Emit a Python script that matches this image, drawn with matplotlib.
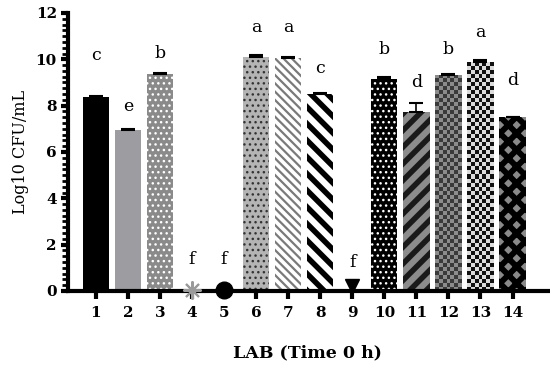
import matplotlib
matplotlib.use('Agg')
import matplotlib.pyplot as plt
import numpy as np

labs = [str(i) for i in range(1, 15)]
values = [8.36, 6.95, 9.35, 0, 0, 10.12, 10.05, 8.50, 0, 9.15, 7.72, 9.33, 9.87, 7.50]
errors = [0.05, 0.03, 0.05, 0, 0, 0.05, 0.03, 0.03, 0, 0.10, 0.40, 0.03, 0.09, 0.03]
letters = ['c', 'e', 'b', 'f', 'f', 'a', 'a', 'c', 'f', 'b', 'd', 'b', 'a', 'd']
letter_y = [10.17, 7.97, 10.26, 1.34, 1.34, 11.38, 11.38, 9.6, 1.25, 10.43, 9.0, 10.43, 11.16, 9.1]

# fill, hatch colour, hatch, hatch linewidth  ('check' = checkerboard)
styles = [
    ('black', 'black', None, 1),
    ('#9c9ca1', '#9c9ca1', None, 1),
    ('#8a8a8a', 'white', '...', 1.0),
    None, None,
    ('#b4b4b4', '#333333', '...', 1.0),
    ('white', '#7a7a7a', '\\\\\\\\', 1.6),
    ('white', 'black', '\\\\', 4.0),
    None,
    ('black', 'white', '...', 1.0),
    ('#8c8c8c', '#1a1a1a', '//', 4.0),
    ('check', '#3a3a3a', '#8c8c8c', 0),
    ('check', '#111111', '#dcdcdc', 0),
    ('#8a8a8a', 'black', 'xx', 4.2),
]
zero_marks = {3: ('*', '#9a9a9a', 13), 4: ('o', 'black', 12), 8: ('v', 'black', 10)}

plt.rcParams['font.family'] = ['DejaVu Serif', 'Liberation Serif']

fig = plt.figure(figsize=(5.5, 3.69), dpi=100)
ax = fig.add_axes([0.1236, 0.2114, 0.8724, 0.7534])

ax.set_xlim(0.13, 15.1)
ax.set_ylim(0, 12)

x = list(range(1, 15))
for i in range(14):
    st = styles[i]
    if st is None:
        m, c, s = zero_marks[i]
        if m == '*':
            ax.plot(x[i], values[i] + 0.05, marker=(8, 2, 0), color=c, markersize=s,
                    markeredgewidth=1.5, clip_on=False, zorder=5)
        elif m == 'v':
            ax.plot(x[i], values[i] + 0.2, marker=m, color=c, markersize=s,
                    clip_on=False, zorder=5)
        else:
            ax.plot(x[i], values[i] + 0.05, marker=m, color=c, markersize=s,
                    clip_on=False, zorder=5)
        continue
    fill, hc, hatch, hlw = st
    if fill == 'check':
        bars = ax.bar(x[i], values[i], width=0.82, color='none', linewidth=0, zorder=2)
        patch = bars[0]
        x0, x1 = patch.get_x(), patch.get_x() + patch.get_width()
        p0 = ax.transData.transform((x0, 0))
        p1 = ax.transData.transform((x1, values[i]))
        nx = max(1, int(round((p1[0] - p0[0]) / 4.0)))
        ny = max(1, int(round((p1[1] - p0[1]) / 4.0)))
        board = np.indices((ny, nx)).sum(axis=0) % 2
        cmap = matplotlib.colors.ListedColormap([hc, hatch])
        im = ax.imshow(board, extent=(x0, x1, 0, values[i]), cmap=cmap,
                       interpolation='nearest', aspect='auto', origin='lower', zorder=2)
        im.set_clip_path(patch)
    else:
        with plt.rc_context({'hatch.linewidth': hlw}):
            ax.bar(x[i], values[i], width=0.82, color=fill, edgecolor=hc,
                   linewidth=0, hatch=hatch, zorder=2)
    ax.errorbar(x[i], values[i], yerr=[[0], [errors[i]]], fmt='none', ecolor='black',
                elinewidth=1.2, capsize=5, capthick=1.5, zorder=3)

for i in range(14):
    ax.text(x[i], letter_y[i], letters[i], ha='center', va='center', fontsize=12.5)

ax.set_xlim(0.13, 15.1)
ax.set_ylim(0, 12)
ax.set_xticks(x)
ax.set_xticklabels(labs, fontsize=11, fontweight='bold')
ax.set_yticks(range(0, 13, 2))
ax.set_yticklabels([str(v) for v in range(0, 13, 2)], fontsize=11, fontweight='bold')
ax.set_yticks([v * 0.25 for v in range(49)], minor=True)
ax.tick_params(axis='both', which='major', direction='out', length=5, width=3, pad=3)
ax.tick_params(axis='y', which='minor', direction='out', length=4, width=2)
ax.tick_params(axis='x', which='major', length=6, pad=5)
for side in ['top', 'right']:
    ax.spines[side].set_visible(False)
for side in ['left', 'bottom']:
    ax.spines[side].set_linewidth(3)

ax.set_ylabel('Log10 CFU/mL', fontsize=11.5, labelpad=5)
ax.set_xlabel('LAB (Time 0 h)', fontsize=12.5, fontweight='bold', labelpad=17)

fig.savefig('out.png', dpi=100)
